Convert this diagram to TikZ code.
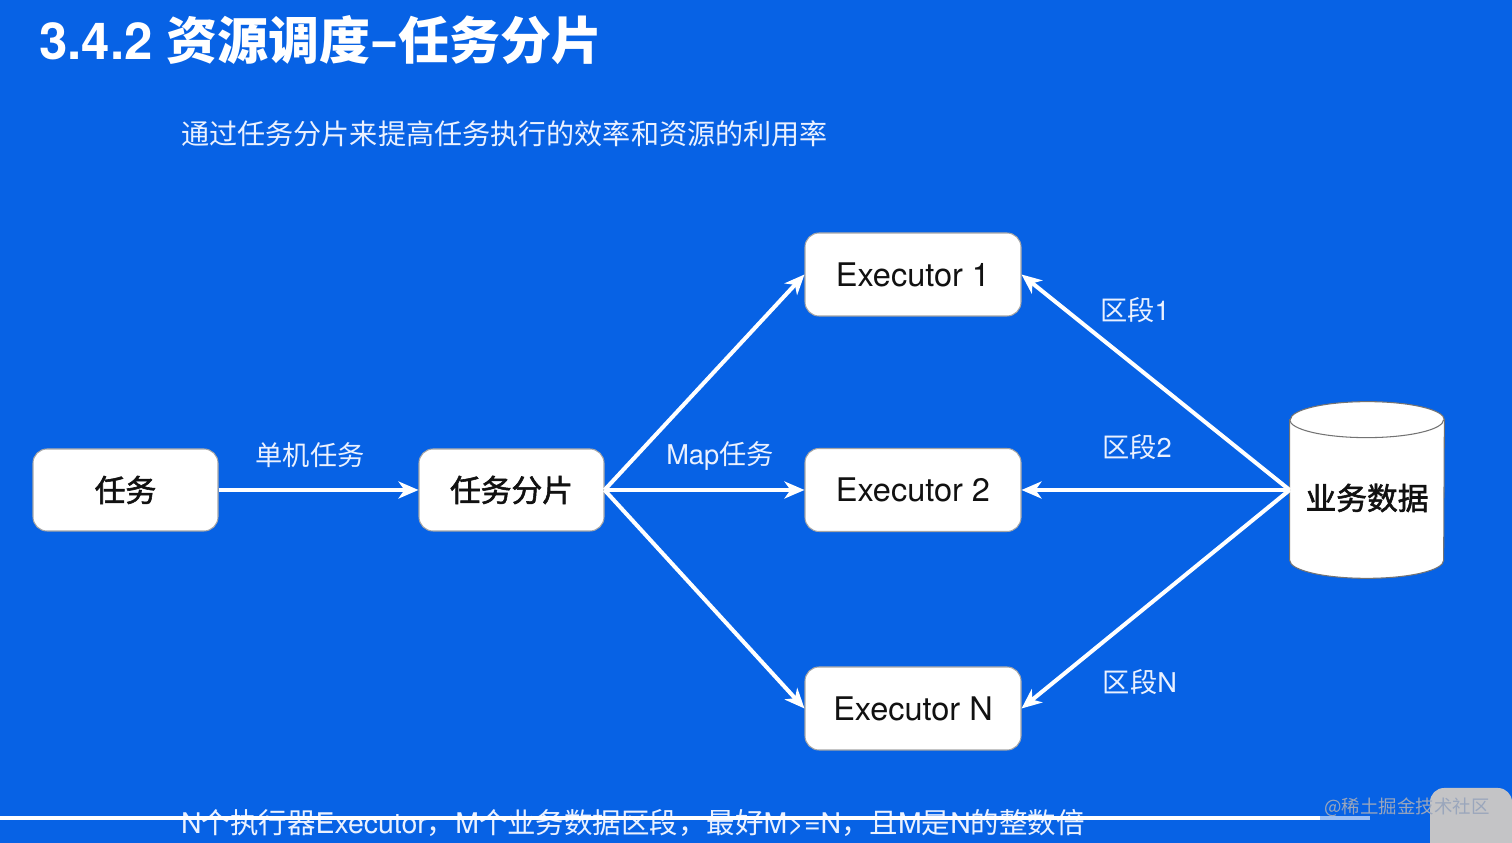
\documentclass[tikz,border=0pt]{standalone}
\usepackage{fontspec}
\setmainfont{TeX Gyre Heros}
\newfontfamily\cjk{Noto Sans CJK SC}
\newfontfamily\cjkm[BoldFont=Noto Sans CJK SC, BoldFeatures={FakeBold=1.8}]{Noto Sans CJK SC}
\usepackage{tikz}
\usetikzlibrary{positioning,arrows.meta,calc}
\definecolor{slide}{HTML}{0762E5}
\definecolor{ink}  {HTML}{111111}
\definecolor{pale} {HTML}{EAF1FF}
\definecolor{mark} {HTML}{9AA6BC}
\definecolor{knob} {HTML}{C4C4C6}
\tikzset{
  % --- nodes
  mod/.style  = {rounded corners=8pt, draw=black!35, fill=white, line width=0.6pt,
                 minimum width=3.7cm, minimum height=1.64cm, text=ink,
                 font=\fontsize{17.5}{20}\selectfont\cjkm\bfseries},
  exe/.style  = {mod, minimum width=4.32cm, minimum height=1.66cm,
                 font=\fontsize{18.5}{22}\selectfont\mdseries},
  lbl/.style  = {font=\fontsize{15.5}{18}\selectfont\cjk, text=pale},
  % --- edges
  e/.style    = {-{Stealth[length=4mm,width=3.4mm,inset=1.2mm]}, line width=2.3pt, draw=white},
}
\begin{document}
\begin{tikzpicture}
  \fill[slide] (0,0) rectangle (30.24,16.86);
  \useasboundingbox (0,0) rectangle (30.24,16.86);

  % heading
  \node[anchor=west, text=white, font=\fontsize{29}{33}\selectfont\bfseries] (title) at (0.66,16.06)
    {3.4.2 {\cjk 资源调度–任务分片}};
  \node[anchor=west, text=pale, font=\fontsize{16}{19}\selectfont\cjk] (sub) at (3.50,14.18)
    {通过任务分片来提高任务执行的效率和资源的利用率};

  % task boxes
  \node[mod] (task)  at ( 2.51, 7.06) {任务};
  \node[mod] (shard) at (10.23, 7.06) {任务分片};
  \node[exe] (ex1)   at (18.26,11.37) {Executor 1};
  \node[exe] (ex2)   at (18.26, 7.06) {Executor 2};
  \node[exe] (exn)   at (18.26, 2.69) {Executor N};

  % data store
  \node[minimum width=3.08cm, minimum height=3.52cm, inner sep=0pt] (data) at (27.34,7.06) {};
  \filldraw[fill=white, draw=black!55, line width=0.6pt]
    ([yshift=-0.36cm]data.north west) -- ([yshift=0.36cm]data.south west)
    arc[start angle=180, end angle=360, x radius=1.54cm, y radius=0.36cm]
    -- ([yshift=-0.36cm]data.north east)
    arc[start angle=0, end angle=180, x radius=1.54cm, y radius=0.36cm] -- cycle;
  \draw[black!55, line width=0.6pt] ([yshift=-0.36cm]data.north west)
    arc[start angle=180, end angle=360, x radius=1.54cm, y radius=0.36cm];
  \node[text=ink, font=\fontsize{17.5}{20}\selectfont\cjkm\bfseries] (datatxt)
    at ([yshift=-0.16cm]data.center) {业务数据};

  % single task -> shards -> executors
  \draw[e] (task)  -- (shard);
  \node[lbl] (single) at (6.2,7.76) {单机任务};
  \draw[e] (shard.east) -- (ex1.west);
  \draw[e] (shard.east) -- (ex2.west);
  \draw[e] (shard.east) -- (exn.west);
  \node[lbl] (map) at (14.4,7.74) {\fontspec{TeX Gyre Heros}Map{\cjk 任务}};

  % data segments -> executors
  \draw[e] (data.west) -- (ex1.east);
  \draw[e] (data.west) -- (ex2.east);
  \draw[e] (data.west) -- (exn.east);
  \node[lbl] (seg1) at (22.70,10.66) {区段\fontspec{TeX Gyre Heros}1};
  \node[lbl] (seg2) at (22.74, 7.92) {区段\fontspec{TeX Gyre Heros}2};
  \node[lbl] (segn) at (22.80, 3.22) {区段\fontspec{TeX Gyre Heros}N};

  % footer
  \node[anchor=west, text=pale, font=\fontsize{16.2}{18}\selectfont] (foot) at (3.50,0.40)
    {N{\cjk 个执行器}Executor{\cjk ，}M{\cjk 个业务数据区段，最好}M>=N{\cjk ，且}M{\cjk 是}N{\cjk 的整数倍}};
  \draw[white, line width=2.2pt] (0,0.5) -- (26.4,0.5);
  \draw[white!60!slide, line width=2.2pt] (26.4,0.5) -- (27.4,0.5);
  \fill[knob] (30.24,0) -- (28.6,0) {[rounded corners=8pt] -- (28.6,1.1) -- (30.24,1.1)} -- cycle;
  \node[text=mark, font=\fontsize{10.5}{12}\selectfont\cjk] (wm) at (28.14,0.72) {@稀土掘金技术社区};
\end{tikzpicture}
\end{document}
